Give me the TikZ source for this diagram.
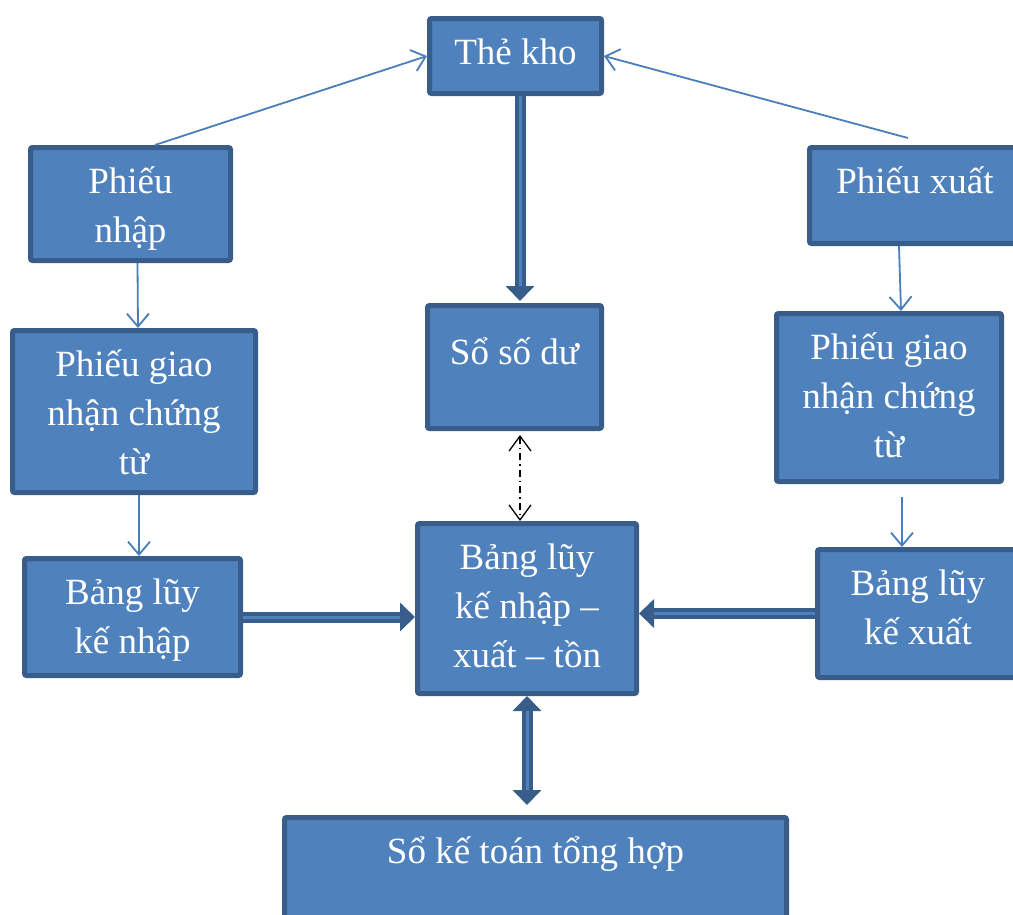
\documentclass[tikz,border=0pt]{standalone}
\usepackage{fontspec}
\setmainfont{Liberation Serif}
\usetikzlibrary{arrows.meta}
\definecolor{boxfill}{HTML}{4F81BD}
\definecolor{boxedge}{HTML}{385D8A}
\definecolor{linkblue}{HTML}{4A7EBB}
\newcommand{\boxtext}[4]{\parbox[c][#2][t]{#1}{\centering\rule{0pt}{#3}#4}}
\tikzset{
  khung/.style={draw=boxedge,fill=boxfill,line width=5pt,rounded corners=2pt,inner sep=0pt,text=white,font=\fontsize{37}{49}\selectfont},
  mui/.style={draw=linkblue,line width=1.8pt,-{Straight Barb[length=13pt,width=22pt]}},
  chamgach/.style={draw=black,line width=1.3pt,dash pattern=on 7pt off 4pt on 1.5pt off 4pt,{Straight Barb[length=15pt,width=22pt]}-{Straight Barb[length=15pt,width=22pt]}},
  dai/.style={draw=boxedge,line width=11pt,-{Triangle[length=15pt,width=28pt]},postaction={draw=boxfill,line width=3pt,-,shorten >=15pt}},
  daihai/.style={draw=boxedge,line width=11pt,{Triangle[length=15pt,width=28pt]}-{Triangle[length=15pt,width=28pt]},shorten >=10pt,postaction={draw=boxfill,line width=3pt,-,shorten >=25pt,shorten <=15pt}}
}
\begin{document}
\begin{tikzpicture}[x=1pt,y=-1pt]
  \useasboundingbox (0,0) rectangle (1013,914);
  \node[khung] (thekho) at (515.5,56) {\boxtext{172pt}{75pt}{45.5pt}{Thẻ kho}};
  \node[khung] (pnhap) at (130.5,204) {\boxtext{200pt}{113pt}{45.5pt}{Phiếu\\nhập}};
  \node[khung] (pxuat) at (915,195.5) {\boxtext{211pt}{96pt}{45.5pt}{Phiếu xuất}};
  \node[khung] (sodu) at (514.5,367) {\boxtext{174pt}{123pt}{58.5pt}{Sổ số dư}};
  \node[khung] (pgiaotrai) at (134,411.5) {\boxtext{243pt}{162pt}{45.5pt}{Phiếu giao\\nhận chứng\\từ}};
  \node[khung] (pgiaophai) at (889,397.5) {\boxtext{225pt}{168pt}{45.5pt}{Phiếu giao\\nhận chứng\\từ}};
  \node[khung] (lkenhap) at (132.5,617) {\boxtext{216pt}{117pt}{45.5pt}{Bảng lũy\\kế nhập}};
  \node[khung] (lkenxt) at (527,608.5) {\boxtext{219pt}{170pt}{45.5pt}{Bảng lũy\\kế nhập –\\xuất – tồn}};
  \node[khung] (lkexuat) at (918,613.5) {\boxtext{201pt}{128pt}{45.5pt}{Bảng lũy\\kế xuất}};
  \node[khung] (sokt) at (535.5,882.5) {\boxtext{502pt}{130pt}{45.5pt}{Sổ kế toán tổng hợp}};
  \draw[mui] ([xshift=24.5pt]pnhap.north) -- (thekho.west);
  \draw[mui] ([xshift=-7pt,yshift=7pt]pxuat.north) -- (thekho.east);
  \draw[mui] ([xshift=7pt]pnhap.south) -- ([xshift=4pt]pgiaotrai.north);
  \draw[mui] ([xshift=5pt]pgiaotrai.south) -- ([xshift=6.5pt]lkenhap.north);
  \draw[mui] ([xshift=-16pt]pxuat.south) -- ([xshift=12pt]pgiaophai.north);
  \draw[mui] ([xshift=13pt,yshift=-13pt]pgiaophai.south) -- ([xshift=-16pt]lkexuat.north);
  \draw[dai] ([xshift=4.5pt]thekho.south) -- ([xshift=5.5pt,yshift=2pt]sodu.north);
  \draw[chamgach] ([xshift=5.5pt,yshift=-4pt]sodu.south) -- ([xshift=-7pt]lkenxt.north);
  \draw[dai] (lkenhap.east) -- (lkenhap.east -| lkenxt.west);
  \draw[dai] (lkexuat.west) -- (lkexuat.west -| lkenxt.east);
  \draw[daihai] (lkenxt.south) -- (lkenxt.south |- sokt.north);
\end{tikzpicture}
\end{document}
